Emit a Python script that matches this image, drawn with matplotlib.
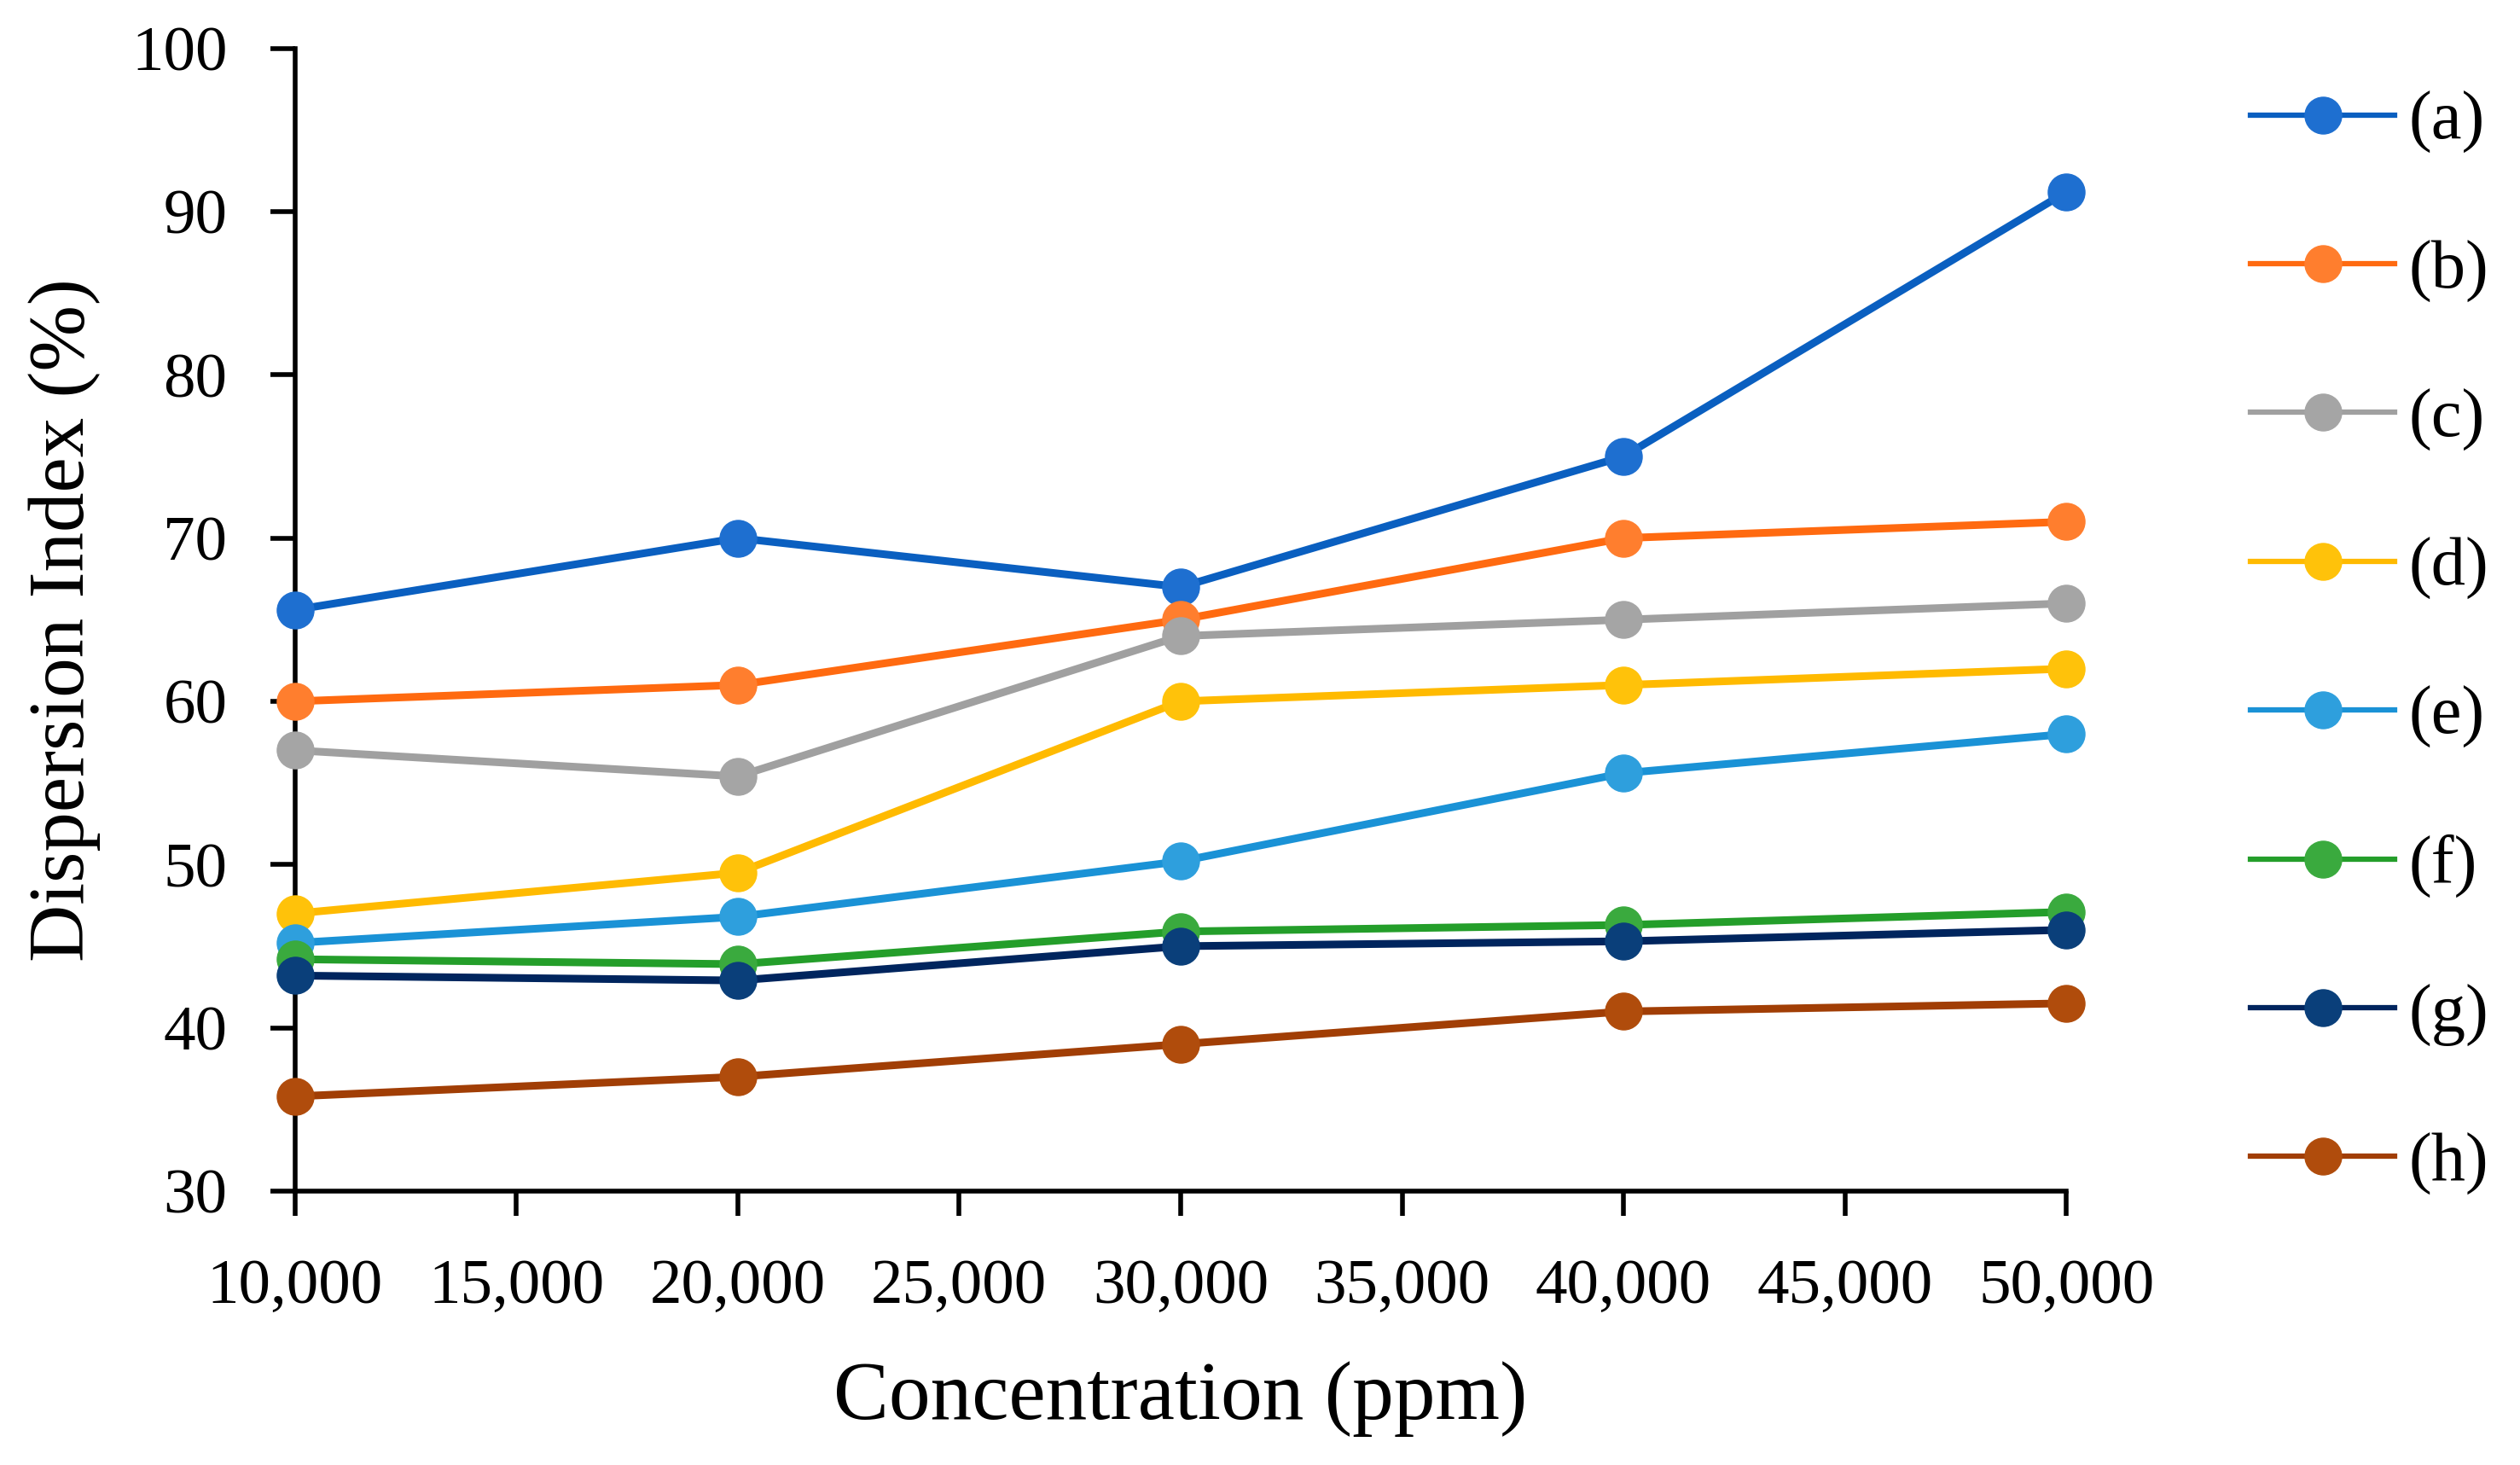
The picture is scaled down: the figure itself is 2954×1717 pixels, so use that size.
import numpy as np
import matplotlib
matplotlib.use('Agg')
from matplotlib import pyplot as plt
from matplotlib.ticker import FuncFormatter

# Données
conc = [10000, 20000, 30000, 40000, 50000]   # ppm
labels = ['(a)', '(b)', '(c)', '(d)', '(e)', '(f)', '(g)', '(h)']
serie_a = [65.6, 70.0, 67.0, 75.0, 91.2]
serie_b = [60.0, 61.0, 65.0, 70.0, 71.0]
serie_c = [57.0, 55.4, 64.0, 65.0, 66.0]
serie_d = [47.0, 49.5, 60.0, 61.0, 62.0]
serie_e = [45.2, 46.8, 50.2, 55.6, 58.0]
serie_f = [44.2, 43.9, 45.9, 46.3, 47.1]
serie_g = [43.2, 42.9, 45.0, 45.3, 46.0]
serie_h = [35.8, 37.0, 39.0, 41.0, 41.5]
series = [serie_a, serie_b, serie_c, serie_d, serie_e, serie_f, serie_g, serie_h]

line_colors = ['#0A5FC0', '#FF6A10', '#A0A0A0', '#FFBA00',
               '#1A92D6', '#249E2A', '#00255E', '#A13E05']
mark_colors = ['#1E6FD0', '#FF7E2E', '#A5A5A5', '#FFC20A',
               '#2E9FDD', '#3AAA3E', '#0A3F7A', '#B04C0C']

plt.rcParams['font.family'] = ['Liberation Serif', 'DejaVu Serif']

fig = plt.figure(figsize=(29.54, 17.17), dpi=100)
ax = fig.add_axes([0.117, 0.187, 0.703, 0.780])

for y, lab, lc, mc in zip(series, labels, line_colors, mark_colors):
    ax.plot(conc, y, '-o', color=lc, lw=6.5, marker='o', ms=31,
            markerfacecolor=mc, markeredgecolor=mc, label=lab,
            clip_on=False, zorder=3)

ax.set_xlim(10000, 50000)
ax.set_ylim(30, 100)
ax.set_xticks(np.arange(10000, 50001, 5000))
ax.set_yticks(np.arange(30, 101, 10))
ax.xaxis.set_major_formatter(FuncFormatter(lambda v, p: f'{int(v):,}'))

for s in ['top', 'right']:
    ax.spines[s].set_visible(False)
for s in ['left', 'bottom']:
    ax.spines[s].set_linewidth(4)
ax.tick_params(direction='out', length=21, width=4, labelsize=54)
ax.tick_params(axis='y', pad=36)
ax.tick_params(axis='x', pad=36)

ax.set_xlabel('Concentration (ppm)', fontsize=70, labelpad=38)
ax.set_ylabel('Dispersion Index (%)', fontsize=67, labelpad=26)

leg = fig.legend(loc='center left', bbox_to_anchor=(0.893, 0.561), frameon=False,
                 fontsize=58, handlelength=2.1, handletextpad=0.2,
                 labelspacing=1.25, borderpad=0, borderaxespad=0)
for h in leg.legend_handles:
    h.set_linewidth(4.5)

fig.savefig('out.png', dpi=100)
